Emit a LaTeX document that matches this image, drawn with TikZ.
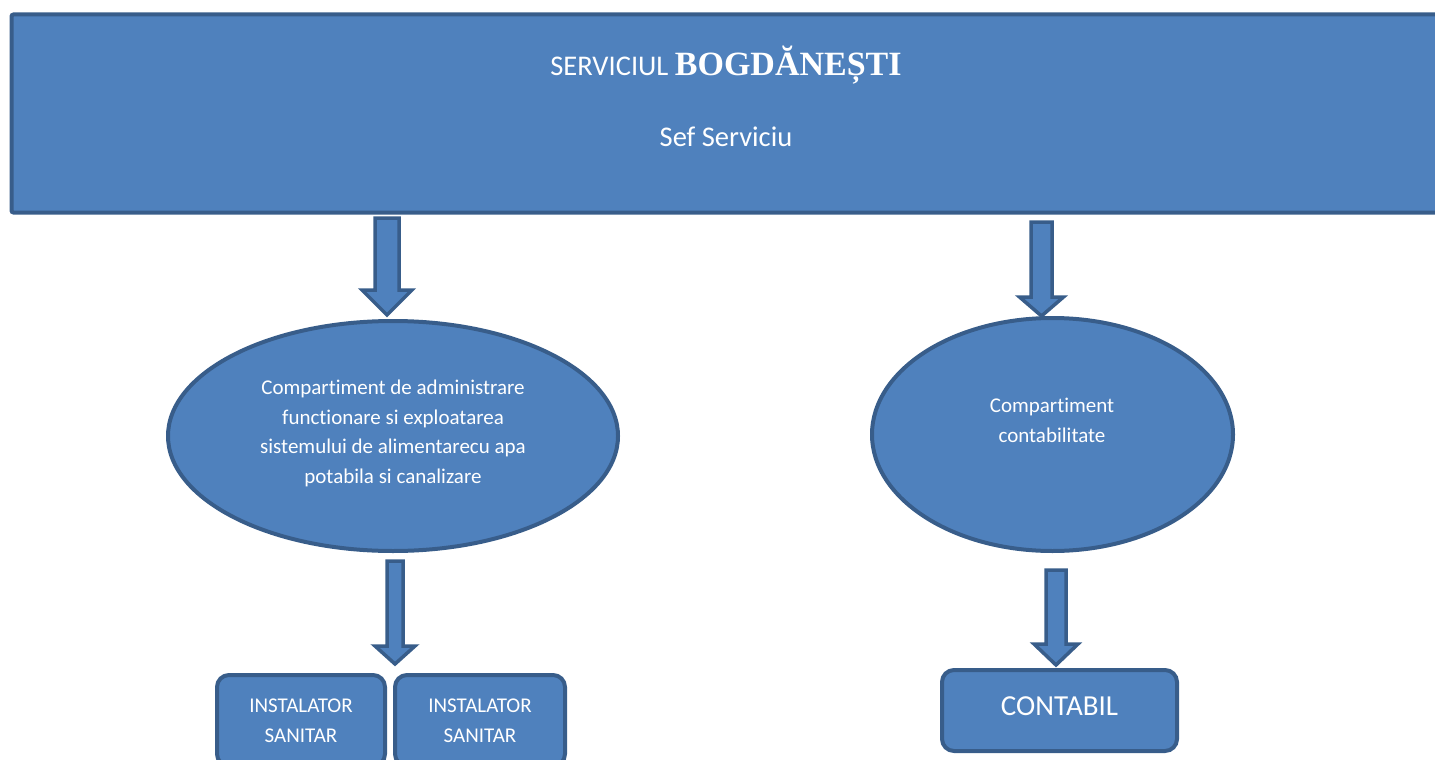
\documentclass[tikz,border=0pt]{standalone}
\usepackage{fontspec}
\setmainfont{Carlito}[Ligatures=NoCommon]
\newfontfamily\titleserif{Liberation Serif}
\usetikzlibrary{shapes.geometric}
\definecolor{boxfill}{HTML}{4F81BD}
\definecolor{boxline}{HTML}{385D8A}
\tikzset{
  blk/.style={fill=boxfill, draw=boxline, line width=4pt},
  txt/.style={text=white, font=\fontsize{21}{29.7}\selectfont, align=center, inner sep=0pt},
  ell/.style={blk, ellipse, inner sep=0pt},
  rbox/.style={blk, rectangle, rounded corners=12pt, inner sep=0pt, text=white, align=center},
  barrowstyle/.style={fill=boxfill, draw=boxline, line width=3.5pt, line join=miter},
}
% cx, top, headtop, tip, shaft half width, head half width
\newcommand{\blockarrow}[6]{%
  \filldraw[barrowstyle] ({#1-#5},#2) -- ({#1+#5},#2) -- ({#1+#5},#3) -- ({#1+#6},#3)
    -- (#1,#4) -- ({#1-#6},#3) -- ({#1-#5},#3) -- cycle;}
\begin{document}
\begin{tikzpicture}[x=1pt,y=-1pt]
\useasboundingbox (0,0) rectangle (1435,760);
\clip (0,0) rectangle (1435,760);

% top banner
\node[blk, rectangle, rounded corners=2pt, minimum width=1433.5pt, minimum height=198pt, inner sep=0pt] (top) at (728.25,113.5) {};
\node[text=white, inner sep=0pt, anchor=base] (title) at (726,75)
  {{\fontsize{28.5}{34}\selectfont SERVICIUL }{\titleserif\bfseries\fontsize{34}{40}\selectfont BOGDĂNEȘTI}};
\node[text=white, inner sep=0pt, anchor=base, font=\fontsize{28.5}{34}\selectfont] (sef) at (726,146) {Sef Serviciu};

% ellipses
\node[ell, minimum width=450pt, minimum height=230pt] (e1) at (393,436) {};
\node[txt] (e1t) at (393,433.5) {Compartiment de administrare\\functionare si exploatarea\\sistemului de alimentarecu apa\\potabila si canalizare};
\node[ell, minimum width=361pt, minimum height=233pt] (e2) at (1052.5,434.5) {};
\node[txt] (e2t) at (1052,420.5) {Compartiment\\contabilitate};

% bottom boxes
\node[rbox, minimum width=168pt, minimum height=91pt, font=\fontsize{21}{29.7}\selectfont] (i1) at (301,720.5) {INSTALATOR\\SANITAR};
\node[rbox, minimum width=170pt, minimum height=91pt, font=\fontsize{21}{29.7}\selectfont] (i2) at (480,720.5) {INSTALATOR\\SANITAR};
\node[rbox, minimum width=235pt, minimum height=81pt, font=\fontsize{29}{34}\selectfont, text height=18.7pt, text depth=9.7pt] (cont) at (1059.5,710.5) {CONTABIL};

% block arrows
\blockarrow{387}{218}{290}{315}{12}{25}
\blockarrow{395}{561}{646}{664}{8}{20}
\blockarrow{1041.5}{222}{297}{316}{10.5}{22}
\blockarrow{1056}{570}{644}{665}{10}{22}
\end{tikzpicture}
\end{document}
